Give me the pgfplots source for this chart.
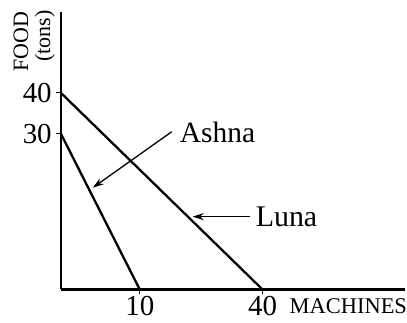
\documentclass[border=0pt]{standalone}
\usepackage{fontspec}
\setmainfont{Liberation Serif}
\usepackage{pgfplots}
\pgfplotsset{compat=1.18}
\usetikzlibrary{arrows.meta}
\begin{document}
\begin{tikzpicture}
\begin{axis}[
    x=1pt, y=1pt,
    xmin=0, xmax=345, ymin=0, ymax=278,
    axis lines=left,
    axis line style={-, line width=2.6pt},
    clip=false,
    xtick={79,202}, xticklabels={10,40},
    ytick={156,197}, yticklabels={30,40},
    tick align=outside,
    major tick length=5pt,
    tick style={line width=1pt, black},
    /pgf/number format/assume math mode=true,
    tick label style={font=\fontsize{29}{29}\selectfont, inner sep=0pt},
    xticklabel style={yshift=-2pt},
    yticklabel style={xshift=-4pt},
]
% Ashna: 30 food or 10 machines; Luna: 40 food or 40 machines
\addplot[line width=2.3pt, black] coordinates {(0,156) (79,0)};
\addplot[line width=2.3pt, black] coordinates {(0,197) (202,0)};

\path (axis cs:-61,-33) rectangle (axis cs:346,290);

\node[rotate=90, inner sep=0pt, font=\fontsize{22}{22}\selectfont] at (axis cs:-40,248) {FOOD};
\node[rotate=90, inner sep=0pt, font=\fontsize{22}{22}\selectfont] at (axis cs:-16,254) {(tons)};
\node[anchor=base west, inner sep=0pt, font=\fontsize{22.5}{22.5}\selectfont] at (axis cs:229,-24) {MACHINES};

\node[anchor=west, inner sep=0pt, font=\fontsize{29.5}{29.5}\selectfont] at (axis cs:119,157) {Ashna};
\draw[line width=1.3pt, -{Stealth[length=11pt, width=7pt]}] (axis cs:111,158) -- (axis cs:32,102);
\node[anchor=west, inner sep=0pt, font=\fontsize{30}{30}\selectfont] at (axis cs:195,73) {Luna};
\draw[line width=1.3pt, -{Stealth[length=11pt, width=7pt]}] (axis cs:189,73) -- (axis cs:132,73);
\end{axis}
\end{tikzpicture}
\end{document}
